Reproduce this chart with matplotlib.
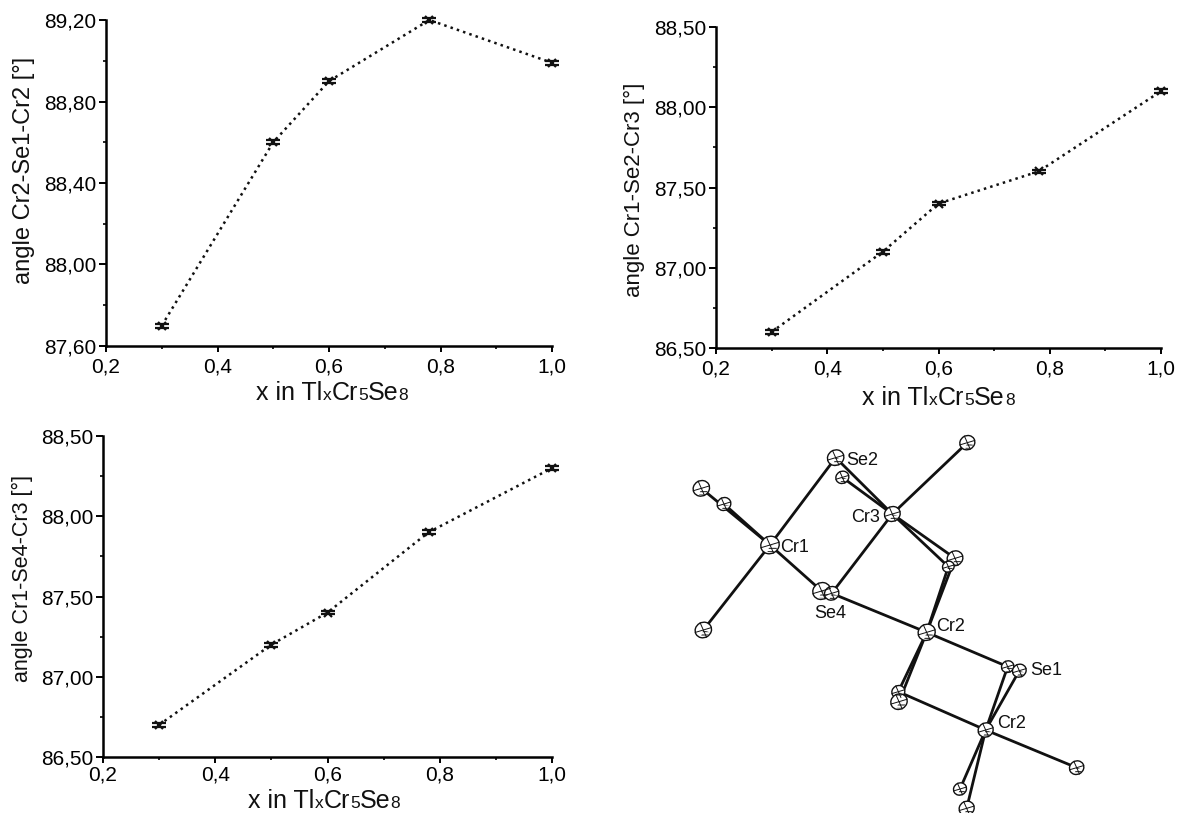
import matplotlib
matplotlib.use('Agg')
import matplotlib.pyplot as plt
from matplotlib.patches import Ellipse, Wedge
from matplotlib.ticker import FuncFormatter, MultipleLocator

plt.rcParams['font.family'] = ['Liberation Sans', 'DejaVu Sans']
plt.rcParams['hatch.linewidth'] = 0.7

W, H = 1180, 813

# chart data
x_vals = [0.3, 0.5, 0.6, 0.78, 1.0]
angle_se1 = [87.70, 88.60, 88.90, 89.20, 88.99]
angle_se2 = [86.60, 87.10, 87.40, 87.60, 88.10]
angle_se4 = [86.70, 87.20, 87.40, 87.90, 88.30]
err_se1 = 0.010
err_se2 = 0.012
err_se4 = 0.012

label_se1 = 'angle Cr2-Se1-Cr2 [°]'
label_se2 = 'angle Cr1-Se2-Cr3 [°]'
label_se4 = 'angle Cr1-Se4-Cr3 [°]'
# (text, is small)
xlabel_parts = [('x in Tl', False), ('x', True), ('Cr', False), ('5', True), ('Se', False), ('8', True)]

# structure drawing, positions
atoms = {
    'top': (982, 68), 'Se2': (587, 113), 'Se2b': (607, 172), 'Cr3': (757, 282),
    'l1': (184, 205), 'l2': (252, 252), 'Cr1': (390, 375), 'bl': (190, 630),
    'Se4': (545, 513), 'Se4b': (575, 520), 'R1': (945, 415), 'R1b': (925, 440),
    'Cr2': (860, 637), 'Se1a': (1103, 740), 'Se1': (1138, 752), 'm1': (775, 815),
    'm2': (777, 845), 'Cr2b': (1037, 930), 'end': (1310, 1043), 'b1': (960, 1107),
    'b2': (980, 1165),
}
atom_sizes = {
    'top': 22, 'Se2': 24, 'Se2b': 19, 'Cr3': 23, 'l1': 24, 'l2': 20, 'Cr1': 27,
    'bl': 24, 'Se4': 26, 'Se4b': 21, 'R1': 23, 'R1b': 17, 'Cr2': 25, 'Se1a': 18,
    'Se1': 20, 'm1': 19, 'm2': 24, 'Cr2b': 22, 'end': 21, 'b1': 19, 'b2': 22,
}
bonds = [
    ('Cr1', 'l1'), ('Cr1', 'l2'), ('Cr1', 'bl'), ('Cr1', 'Se2'), ('Cr1', 'Se4'),
    ('Cr3', 'top'), ('Cr3', 'Se2'), ('Cr3', 'Se2b'), ('Cr3', 'Se4b'), ('Cr3', 'R1'),
    ('Cr3', 'R1b'), ('Cr2', 'R1'), ('Cr2', 'R1b'), ('Cr2', 'Se4b'), ('Cr2', 'Se1a'),
    ('Cr2', 'm1'), ('Cr2', 'm2'), ('Cr2b', 'm1'), ('Cr2b', 'Se1'), ('Cr2b', 'Se1a'),
    ('Cr2b', 'end'), ('Cr2b', 'b1'), ('Cr2b', 'b2'),
]
atom_labels = {
    'Se2': (618, 120), 'Cr3': (634, 291), 'Cr1': (420, 381), 'Se4': (523, 580),
    'Cr2': (889, 618), 'Se1': (1172, 750), 'Cr2b': (1072, 910),
}
atom_names = {'Se2': 'Se2', 'Cr3': 'Cr3', 'Cr1': 'Cr1', 'Se4': 'Se4',
              'Cr2': 'Cr2', 'Se1': 'Se1', 'Cr2b': 'Cr2'}


fig = plt.figure(figsize=(W / 100, H / 100), dpi=100)


# the small letters in the label sit on the baseline, so write it piece by piece
def draw_xlabel(start_x, baseline_y):
    renderer = fig.canvas.get_renderer()
    px = start_x
    for part, small in xlabel_parts:
        t = fig.text(px / W, 1 - baseline_y / H, part, ha='left', va='baseline',
                     fontsize=12.5 if small else 18, color='#111111')
        px = t.get_window_extent(renderer).x1 + 0.2


def make_panel(box, x, y, err, ylim, ystep, ylabel, ylab, xlab, pad):
    left, right, top, bottom = box
    ax = fig.add_axes([left / W, 1 - bottom / H, (right - left) / W, (bottom - top) / H])
    ax.errorbar(x, y, yerr=err, color='#111111', ls=':', lw=1.8, capsize=5,
                capthick=1.6, elinewidth=1.6, marker='x', ms=5.5, mew=1.6, clip_on=False)
    ax.set_xlim(0.2, 1.0)
    ax.set_ylim(*ylim)
    for side in ['top', 'right']:
        ax.spines[side].set_visible(False)
    for side in ['left', 'bottom']:
        ax.spines[side].set_linewidth(1.8)
    ax.xaxis.set_major_locator(MultipleLocator(0.2))
    ax.xaxis.set_minor_locator(MultipleLocator(0.1))
    ax.yaxis.set_major_locator(MultipleLocator(ystep))
    ax.yaxis.set_minor_locator(MultipleLocator(ystep / 2))
    ax.xaxis.set_major_formatter(FuncFormatter(lambda v, p: f'{v:.1f}'.replace('.', ',')))
    ax.yaxis.set_major_formatter(FuncFormatter(lambda v, p: f'{v:.2f}'.replace('.', ',')))
    ax.tick_params(which='major', length=5, width=1.4, labelsize=15, pad=2)
    ax.tick_params(axis='x', which='major', length=4, pad=pad)
    ax.tick_params(which='minor', length=2.5, width=1.2)
    ax.patch.set_alpha(0)
    fig.text(ylab[0] / W, 1 - ylab[1] / H, ylabel[0], rotation=90,
             ha='center', va='center', fontsize=ylabel[1], color='#111111')
    draw_xlabel(*xlab)
    return ax


ax1 = make_panel((106, 552, 20, 346), x_vals, angle_se1, err_se1, (87.6, 89.2), 0.4,
                 (label_se1, 17), (24, 170), (256, 400), 4.5)
ax2 = make_panel((716, 1161, 27, 348), x_vals, angle_se2, err_se2, (86.5, 88.5), 0.5,
                 (label_se2, 16), (634, 190), (862, 405), 4)
ax3 = make_panel((103, 552, 436, 757), x_vals, angle_se4, err_se4, (86.5, 88.5), 0.5,
                 (label_se4, 15.5), (22, 578), (248, 808), 2)

# structure panel, same scale as the 3x crop
mol = fig.add_axes([640 / W, 1 - 813 / H, 460 / W, 393 / H])
mol.set_xlim(0, 1380)
mol.set_ylim(1179, 0)
mol.axis('off')
for a, b in bonds:
    mol.plot([atoms[a][0], atoms[b][0]], [atoms[a][1], atoms[b][1]],
             color='#111111', lw=2.0, zorder=1, solid_capstyle='butt')
for name, (ax_, ay_) in atoms.items():
    r = atom_sizes[name]
    mol.add_patch(Ellipse((ax_, ay_), 2 * r * 1.05, 2 * r * 0.95, angle=-30, fc='white',
                          ec='#111111', lw=1.0, zorder=2))
    mol.add_patch(Wedge((ax_, ay_), r * 0.85, 20, 110, fc='none', ec='#111111', lw=0,
                        hatch='-----', zorder=3))
    mol.plot([ax_ - r, ax_ + r], [ay_ + r * 0.3, ay_ - r * 0.3], color='#111111', lw=0.7, zorder=3)
    mol.plot([ax_ - r * 0.4, ax_ + r * 0.4], [ay_ - r * 0.9, ay_ + r * 0.9], color='#111111', lw=0.7, zorder=3)
for name, (tx, ty) in atom_labels.items():
    mol.text(tx, ty, atom_names[name], fontsize=13, ha='left', va='center',
             color='#111111', zorder=4)

fig.savefig('out.png', dpi=100)
